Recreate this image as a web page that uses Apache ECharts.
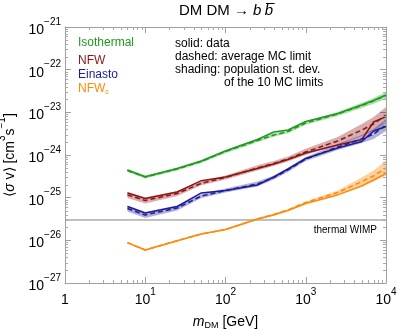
<!DOCTYPE html>
<html>
<head>
<meta charset="utf-8">
<script src="https://cdn.jsdelivr.net/npm/echarts@6/dist/echarts.min.js"></script>
<style>
  html, body { margin: 0; padding: 0; background: #fff; }
  #chart { width: 399px; height: 329px; }
</style>
</head>
<body>
<div id="chart"></div>
<script>
// masses (GeV) where the limits are sampled
const masses = [6, 10, 25, 50, 100, 250, 400, 600, 1000, 2500, 5000, 7000, 10000];

// <sigma v> limits, cm^3 s^-1 : solid = data, dashed = average MC limit, spread = st. dev. factor
const isoData = [4.46e-25, 3.10e-25, 4.83e-25, 7.24e-25, 1.24e-24, 2.31e-24, 3.46e-24, 3.85e-24, 6.10e-24, 9.40e-24, 1.49e-23, 1.89e-23, 2.55e-23];
const isoMC   = [4.34e-25, 3.05e-25, 4.70e-25, 7.05e-25, 1.21e-24, 2.19e-24, 2.94e-24, 3.56e-24, 5.62e-24, 9.14e-24, 1.45e-23, 1.85e-23, 2.48e-23];
const isoSpread = [1.08, 1.08, 1.08, 1.08, 1.1, 1.1, 1.1, 1.1, 1.1, 1.12, 1.15, 1.17, 1.21];

const nfwData = [1.29e-25, 9.57e-26, 1.36e-25, 2.50e-25, 3.05e-25, 4.83e-25, 6.15e-25, 7.85e-25, 1.11e-24, 1.72e-24, 2.31e-24, 5.94e-24, 7.91e-24];
const nfwMC   = [1.16e-25, 8.59e-26, 1.25e-25, 2.17e-25, 2.97e-25, 4.97e-25, 6.32e-25, 8.05e-25, 1.18e-24, 2.13e-24, 3.85e-24, 5.33e-24, 8.67e-24];
const nfwSpread = [1.18, 1.18, 1.15, 1.11, 1.11, 1.15, 1.15, 1.15, 1.18, 1.24, 1.38, 1.46, 1.54];

const einData = [6.21e-26, 4.38e-26, 6.21e-26, 1.29e-25, 1.47e-25, 1.98e-25, 3.05e-25, 4.70e-25, 8.28e-25, 1.46e-24, 2.07e-24, 3.66e-24, 4.66e-24];
const einMC   = [5.57e-26, 3.93e-26, 5.73e-26, 1.09e-25, 1.47e-25, 2.09e-25, 2.97e-25, 4.46e-25, 8.05e-25, 1.54e-24, 2.37e-24, 3.10e-24, 5.05e-24];
const einSpread = [1.18, 1.18, 1.15, 1.11, 1.11, 1.15, 1.11, 1.11, 1.11, 1.18, 1.24, 1.31, 1.38];

const nfwcData = [8.81e-27, 5.94e-27, 9.82e-27, 1.41e-26, 1.79e-26, 3.16e-26, 3.93e-26, 5.01e-26, 7.31e-26, 1.16e-25, 1.88e-25, 2.59e-25, 3.69e-25];
const nfwcMC   = [8.81e-27, 5.94e-27, 9.82e-27, 1.41e-26, 1.79e-26, 3.16e-26, 4.04e-26, 5.14e-26, 7.71e-26, 1.32e-25, 2.39e-25, 3.22e-25, 4.97e-25];
const nfwcSpread = [1.04, 1.04, 1.04, 1.04, 1.04, 1.05, 1.05, 1.05, 1.06, 1.11, 1.24, 1.35, 1.5];

const thermalWimp = 3e-26;
const xRange = [1, 10000];
const yRange = [1e-27, 1e-21];
const minorSteps = [2, 3, 4, 5, 6, 7, 8, 9];

// echarts v6 log scale loses precision near 1e-27, so plot y in units of 1e-26
const Y_UNIT = 1e-26;
const Y_UNIT_EXP = -26;
const sy = (v) => v / Y_UNIT

const FONT = 'Liberation Sans, Arial, sans-serif';

const models = [
    { name: 'Isothermal', color: '#1f9a1f', band: 'rgba(31,154,31,0.35)', data: isoData, mc: isoMC, spread: isoSpread },
    { name: 'NFW', color: '#8e1414', band: 'rgba(142,20,20,0.35)', data: nfwData, mc: nfwMC, spread: nfwSpread },
    { name: 'Einasto', color: '#1c1c96', band: 'rgba(28,28,150,0.35)', data: einData, mc: einMC, spread: einSpread },
    { name: 'NFWc', color: '#ff8a0a', band: 'rgba(255,138,10,0.4)', data: nfwcData, mc: nfwcMC, spread: nfwcSpread }
]

const pairs = (ys) => masses.map((m, i) => [m, sy(ys[i])])

const series = []
models.forEach((md) => {
    const bandData = masses.map((m, i) => [m, sy(md.mc[i] / md.spread[i]), sy(md.mc[i] * md.spread[i])])
    series.push({
        type: 'custom',
        name: md.name + ' band',
        data: bandData,
        encode: { x: 0, y: [1, 2] },
        z: 1,
        silent: true,
        renderItem: (params, api) => {
            if (params.dataIndex !== 0) return
            const up = bandData.map((d) => api.coord([d[0], d[2]]))
            const lo = bandData.map((d) => api.coord([d[0], d[1]])).reverse()
            return { type: 'polygon', shape: { points: up.concat(lo) }, style: { fill: md.band } }
        }
    })
    series.push({
        type: 'line', data: pairs(md.data), symbol: 'none', z: 3,
        lineStyle: { color: md.color, width: 1.5 }
    })
    series.push({
        type: 'line', data: pairs(md.mc), symbol: 'none', z: 4,
        lineStyle: { color: md.color, width: 1.5, type: [5, 3] }
    })
})

series.push({
    type: 'line', data: [[xRange[0], sy(thermalWimp)], [xRange[1], sy(thermalWimp)]], symbol: 'none', z: 2,
    lineStyle: { color: '#808080', width: 1 }
})

// minor (2..9 x 10^n) ticks on all four sides of the frame
const minorX = []
for (let e = 0; e < 4; e++) minorSteps.forEach((k) => minorX.push(k * Math.pow(10, e)))
const minorY = []
for (let e = 0; e < 6; e++) minorSteps.forEach((k) => minorY.push(k * Math.pow(10, e - 1)))
series.push({
    type: 'custom',
    data: [[1, 1]],
    silent: true,
    z: 5,
    renderItem: (params, api) => {
        const cs = params.coordSys
        const kids = []
        const st = { stroke: '#a8a8a8', lineWidth: 1 }
        minorX.forEach((v) => {
            const x = Math.round(api.coord([v, 1])[0]) + 0.5
            kids.push({ type: 'line', shape: { x1: x, y1: cs.y + cs.height, x2: x, y2: cs.y + cs.height - 3 }, style: st })
            kids.push({ type: 'line', shape: { x1: x, y1: cs.y, x2: x, y2: cs.y + 3 }, style: st })
        })
        minorY.forEach((v) => {
            const y = Math.round(api.coord([1, v])[1]) + 0.5
            kids.push({ type: 'line', shape: { x1: cs.x, y1: y, x2: cs.x + 3, y2: y }, style: st })
            kids.push({ type: 'line', shape: { x1: cs.x + cs.width, y1: y, x2: cs.x + cs.width - 3, y2: y }, style: st })
        })
        return { type: 'group', children: kids }
    }
})

const powRich = {
    b: { fontSize: 14, fontFamily: FONT, color: '#000', lineHeight: 20, verticalAlign: 'bottom' },
    s: { fontSize: 10, fontFamily: FONT, color: '#000', lineHeight: 10, verticalAlign: 'top' }
}
const powText = (e) => {
    if (e === 0) return '{b|1}'
    return '{b|10}{s|' + (e < 0 ? '\u2212' : '') + Math.abs(e) + '}'
}

const axisCommon = {
    type: 'log',
    logBase: 10,
    axisLine: { show: true, lineStyle: { color: '#a0a0a0' } },
    axisTick: { show: true, inside: true, length: 6, lineStyle: { color: '#a0a0a0' } },
    splitLine: { show: false }
}

const txt = (x, y, text, color) => ({ type: 'text', x: x, y: y, style: { text: text, fontSize: 12, fontFamily: FONT, fill: color } })

const option = {
    animation: false,
    grid: { left: 65, right: 13, top: 27, bottom: 46, outerBoundsMode: 'none' },
    xAxis: [
        Object.assign({}, axisCommon, {
            min: xRange[0], max: xRange[1], position: 'bottom',
            axisLabel: { formatter: (v) => powText(Math.round(Math.log10(v))), rich: powRich, margin: 4 },
            name: '{i|m}{sub|DM}{n| [GeV]}',
            nameLocation: 'middle',
            nameGap: 31,
            nameTextStyle: {
                rich: {
                    i: { fontSize: 14, fontStyle: 'italic', fontFamily: FONT, color: '#000', lineHeight: 16 },
                    sub: { fontSize: 9, fontFamily: FONT, color: '#000', lineHeight: 10, verticalAlign: 'bottom' },
                    n: { fontSize: 14, fontFamily: FONT, color: '#000', lineHeight: 16 }
                }
            }
        }),
        Object.assign({}, axisCommon, {
            min: xRange[0], max: xRange[1], position: 'top', axisLabel: { show: false }
        })
    ],
    yAxis: [
        Object.assign({}, axisCommon, {
            min: sy(yRange[0]), max: sy(yRange[1]), position: 'left',
            axisLabel: { formatter: (v) => powText(Math.round(Math.log10(v)) + Y_UNIT_EXP), rich: powRich, margin: 4 },
            name: '{n|\u27e8}{i|\u03c3}{n| v\u27e9 [cm}{s|3}{n|s}{s|\u22121}{n|]}',
            nameLocation: 'middle',
            nameGap: 44,
            nameTextStyle: {
                rich: {
                    n: { fontSize: 14, fontFamily: FONT, color: '#000', lineHeight: 20, verticalAlign: 'bottom' },
                    i: { fontSize: 14, fontStyle: 'italic', fontFamily: FONT, color: '#000', lineHeight: 20, verticalAlign: 'bottom' },
                    s: { fontSize: 10, fontFamily: FONT, color: '#000', lineHeight: 10, verticalAlign: 'top' }
                }
            }
        }),
        Object.assign({}, axisCommon, {
            min: sy(yRange[0]), max: sy(yRange[1]), position: 'right', axisLabel: { show: false }
        })
    ],
    graphic: [
        {
            type: 'text', x: 226, y: 3,
            style: {
                text: '{n|DM DM \u2192 }{i|b} {i|b\u0305}',
                align: 'center',
                rich: {
                    n: { fontSize: 15, fontFamily: FONT, fill: '#000' },
                    i: { fontSize: 15, fontStyle: 'italic', fontFamily: FONT, fill: '#000' }
                }
            }
        },
        txt(78, 37, 'Isothermal', models[0].color),
        txt(78, 55, 'NFW', models[1].color),
        txt(78, 68.5, 'Einasto', models[2].color),
        {
            type: 'text', x: 78, y: 81,
            style: {
                text: '{n|NFW}{s|c}',
                rich: {
                    n: { fontSize: 12, fontFamily: FONT, fill: models[3].color, lineHeight: 15 },
                    s: { fontSize: 7, fontFamily: FONT, fill: models[3].color, lineHeight: 8, verticalAlign: 'bottom' }
                }
            }
        },
        txt(175, 37.5, 'solid: data', '#000'),
        txt(175, 50.5, 'dashed: average MC limit', '#000'),
        txt(175, 63.5, 'shading: population st. dev.', '#000'),
        txt(224, 76.5, 'of the 10 MC limits', '#000'),
        { type: 'text', x: 377, y: 225, style: { text: 'thermal WIMP', align: 'right', fontSize: 10, fontFamily: FONT, fill: '#000' } }
    ],
    series: series
}

const chart = echarts.init(document.getElementById('chart'))
chart.setOption(option)
</script>
</body>
</html>
